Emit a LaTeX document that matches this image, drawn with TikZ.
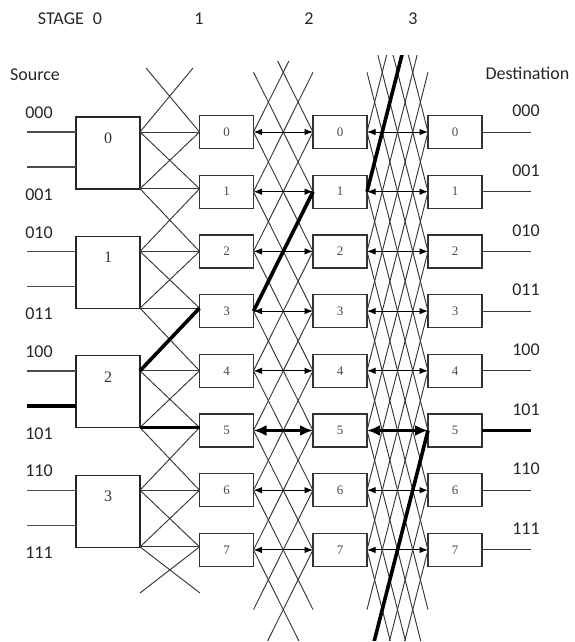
\documentclass[tikz,border=0pt]{standalone}
\usepackage{fontspec}
\setmainfont{Liberation Serif}
\newfontfamily\labfont{Carlito}
\usetikzlibrary{arrows.meta,calc}
\begin{document}
\begin{tikzpicture}[x=1pt,y=-1pt,
  lbl/.style={font=\labfont\fontsize{18}{18}\selectfont, text=black!85, inner sep=0},
  bigbox/.style={draw=black!85, fill=white, line width=1.3pt, minimum width=64pt, minimum height=72pt, inner sep=0, outer sep=0, anchor=north},
  bignum/.style={font=\fontsize{16}{16}\selectfont, text=black!80, inner sep=0},
  smallbox/.style={draw=black!80, fill=white, line width=1.3pt, minimum width=54pt, minimum height=33pt, inner sep=0, outer sep=0, font=\fontsize{13}{13}\selectfont, text=black!70},
  wire/.style={draw=black!78, line width=0.95pt},
  inwire/.style={draw=black!70, line width=1.4pt},
  dbl/.style={draw=black, line width=0.9pt, {Latex[length=8.5pt,width=6.5pt]}-{Latex[length=8.5pt,width=6.5pt]}},
  thickpath/.style={draw=black, line width=3.6pt},
  thickdbl/.style={draw=black, line width=3.6pt, {Latex[length=13pt,width=11pt]}-{Latex[length=13pt,width=11pt]}},
]
\useasboundingbox (0,0) rectangle (574,642);

% stage boxes 1..3
\foreach \i in {0,...,7} {
  \node[smallbox] (s1-\i) at (226.5,{132+59.7*\i}) {\i};
  \node[smallbox] (s2-\i) at (340,{132+59.7*\i}) {\i};
  \node[smallbox] (s3-\i) at (455,{132+59.7*\i}) {\i};
  \coordinate (d-\i) at (531,{132+59.7*\i});
}
% stage 0 output points (lower output sits at the box bottom)
\foreach \k in {0,...,3} {
  \pgfmathtruncatemacro\ia{2*\k}
  \pgfmathtruncatemacro\ib{2*\k+1}
  \coordinate (o-\ia) at (140,{132+59.7*\ia});
  \coordinate (o-\ib) at (140,{132+59.7*\ib-3});
}
% virtual row coordinates for lattice (v = row + 4)
\foreach \v in {0,...,15} {
  \coordinate (L1v\v) at (253.5,{132+59.7*(\v-4)});
  \coordinate (R1v\v) at (313,{132+59.7*(\v-4)});
  \coordinate (L2v\v) at (367,{132+59.7*(\v-4)});
  \coordinate (R2v\v) at (428,{132+59.7*(\v-4)});
}

% stage 0 boxes and inputs
\foreach \k in {0,...,3} {
  \pgfmathsetmacro\ya{132+119.4*\k}
  \node[bigbox] (s0-\k) at (108,\ya-15) {};
  \node[bignum] (n0-\k) at (108,\ya+6) {\k};
  \coordinate (ia-\k) at (27,\ya);
  \coordinate (ib-\k) at (27,\ya+35);
  \draw[inwire] (ia-\k) -- (ia-\k -| s0-\k.west);
  \draw[inwire] (ib-\k) -- (ib-\k -| s0-\k.west);
}

% band 0-1
\foreach \i in {0,...,7} { \draw[wire] (o-\i) -- (s1-\i.west |- o-\i); }
\foreach \i in {0,...,6} {
  \pgfmathtruncatemacro\j{\i+1}
  \draw[wire] (o-\i) -- (s1-\j.west |- o-\j);
  \draw[wire] (o-\j) -- (s1-\i.west |- o-\i);
}
\coordinate (t01a) at (193,68);
\coordinate (t01b) at (146,68);
\coordinate (b01a) at (200,593);
\coordinate (b01b) at (140,593);
\draw[wire] (o-0) -- (t01a);
\draw[wire] (s1-0.west) -- (t01b);
\draw[wire] (o-7) -- (b01a);
\draw[wire] (s1-7.west |- o-7) -- (b01b);

% band 1-2 lattice (+-2 rows)
\begin{scope}
  \clip (0,62) rectangle (574,640);
  \foreach \v in {2,...,11} {
    \pgfmathtruncatemacro\w{\v+2}
    \draw[wire] (L1v\v) -- (R1v\w);
    \draw[wire] (L1v\w) -- (R1v\v);
  }
\end{scope}

% band 2-3 lattice (+-4 rows)
\begin{scope}
  \clip (0,56) rectangle (574,640);
  \foreach \v in {0,...,11} {
    \pgfmathtruncatemacro\w{\v+4}
    \draw[wire] (L2v\v) -- (R2v\w);
    \draw[wire] (L2v\w) -- (R2v\v);
  }
  \draw[thickpath] (s2-1.east) -- (R2v1);
  \draw[thickpath] (s3-5.west) -- (L2v13);
\end{scope}

% double arrows
\foreach \i in {0,1,2,3,4,6,7} {
  \draw[dbl] (s1-\i.east) -- (s2-\i.west);
  \draw[dbl] (s2-\i.east) -- (s3-\i.west);
}
\draw[thickdbl] (s1-5.east) -- (s2-5.west);
\draw[thickdbl] (s2-5.east) -- (s3-5.west);

% outputs
\foreach \i in {0,1,2,3,4,6,7} { \draw[wire] (s3-\i.east) -- (d-\i); }

% thick path
\draw[thickpath] (ib-2) -- (ib-2 -| s0-2.west);
\draw[thickpath] (o-4) -- (s1-3.west |- o-3);
\draw[thickpath] (o-5) -- (s1-5.west |- o-5);
\draw[thickpath] (s1-3.east) -- (s2-1.west);
\draw[thickpath] (s3-5.east) -- (d-5);

% labels
\node[lbl] (stg0) at (70,19) {STAGE\hspace{9pt}0};
\node[lbl] (stg1) at (199,19) {1};
\node[lbl] (stg2) at (309,19) {2};
\node[lbl] (stg3) at (413,19) {3};
\node[lbl] (src) at (35,75) {Source};
\node[lbl] (dst) at (527.5,73) {Destination};
\foreach \i/\t in {0/000,2/010,4/100,6/110} {
  \node[lbl] (sl-\i) at (39,{132+59.7*\i-19}) {\t};
}
\foreach \i/\t in {1/001,3/011,5/101,7/111} {
  \node[lbl] (sl-\i) at (39,{132+59.7*\i+3}) {\t};
}
\foreach \i/\t in {0/000,1/001,2/010,3/011,4/100,5/101,6/110,7/111} {
  \node[lbl] (dl-\i) at (526,{132+59.7*\i-21}) {\t};
}
\end{tikzpicture}
\end{document}
